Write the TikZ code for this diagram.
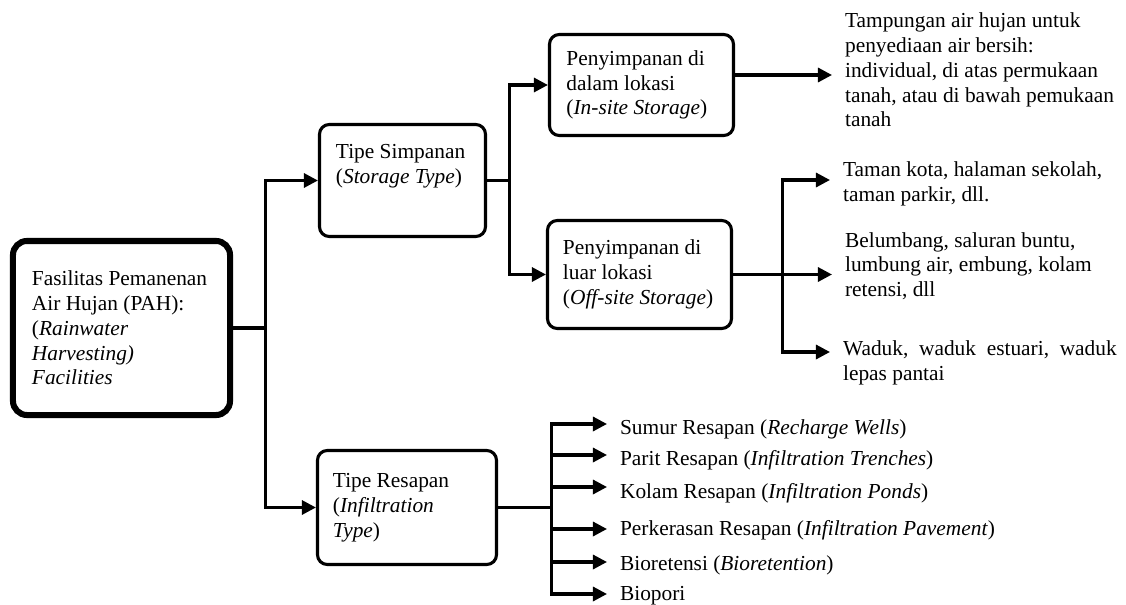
\documentclass[tikz,border=0pt]{standalone}
\usepackage{fontspec}
\setmainfont{Liberation Serif}
\usetikzlibrary{arrows.meta, positioning, calc}

\begin{document}
\begin{tikzpicture}[
    x=0.025cm, y=-0.025cm,
    >={Triangle[length=10pt, width=10pt]},
    font=\fontsize{15.2}{17.6}\selectfont,
    box/.style={draw=black, line width=2.2pt, rounded corners=7pt, align=flush left, inner ysep=0pt},
    mainbox/.style={box, line width=4.3pt, rounded corners=10pt},
    leaf/.style={align=flush left, inner xsep=0.32cm, inner ysep=0pt, anchor=west},
    link/.style={line width=2.2pt},
    arrow/.style={link, ->}
]

\useasboundingbox (0,0) rectangle (1126,605);

% ===== Root =====
\node[mainbox, minimum width=5.425cm, minimum height=4.35cm, inner xsep=0.475cm, text width=4.475cm] (pah) at (121.5,328)
    {Fasilitas Pemanenan\\Air Hujan (PAH):\\(\textit{Rainwater}\\\textit{Harvesting)}\\\textit{Facilities}};

% ===== Storage branch =====
\node[box, minimum width=4.15cm, minimum height=2.8cm, inner xsep=0.4125cm] (simp) at (402.5,180.5)
    {\parbox[c][1.8cm][t]{3.325cm}{Tipe Simpanan\\(\textit{Storage Type})}};
\node[box, minimum width=4.6cm, minimum height=2.525cm, inner xsep=0.425cm, text width=3.75cm] (dalam) at (641.5,85)
    {Penyimpanan di\\dalam lokasi\\(\textit{In-site Storage})};
\node[box, minimum width=4.6cm, minimum height=2.7cm, inner xsep=0.3875cm, text width=3.825cm] (luar) at (639.5,274.5)
    {Penyimpanan di\\luar lokasi\\(\textit{Off-site Storage})};

% Storage leaves
\node[leaf] (tamp) at (832,70)
    {Tampungan air hujan untuk\\penyediaan air bersih:\\individual, di atas permukaan\\tanah, atau di bawah pemukaan\\tanah};
\node[leaf] (taman) at (830,184) {Taman kota, halaman sekolah,\\taman parkir, dll.};
\node[leaf] (belum) at (832,266) {Belumbang, saluran buntu,\\lumbung air, embung, kolam\\retensi, dll};
\node[leaf] (waduk) at (830,363) {Waduk,\ \ waduk\ \ estuari,\ \ waduk\\lepas pantai};

% ===== Infiltration branch =====
\node[box, minimum width=4.475cm, minimum height=2.85cm, inner xsep=0.3875cm, text width=3.7cm] (res) at (407,507.5)
    {Tipe Resapan\\(\textit{Infiltration}\\\textit{Type})};

% Connectors from root
\draw[link] (pah.east) -- ++(32,0) coordinate (jPah);
\draw[arrow] (jPah) |- (simp.west);
\draw[arrow] (jPah) |- (res.west);

% Storage connectors
\draw[link] (simp.east) -- ++(22,0) coordinate (jSimp);
\draw[arrow] (jSimp) |- (dalam.west);
\draw[arrow] (jSimp) |- (luar.west);
\draw[arrow] ($(dalam.east)+(0,-10)$) -- ($(dalam.east -| tamp.west)+(0,-10)$);

\draw[link] (luar.east) -- ++(49,0) coordinate (jLuar);
\draw[arrow] (luar.east) -- (luar.east -| belum.west);
\draw[arrow] (jLuar) |- ($(taman.west)+(0,-4)$);
\draw[arrow] (jLuar) |- ($(waduk.west)+(0,-11)$);

% Infiltration leaves
\draw[link] (res.east) -- ++(53,0) coordinate (jRes);
\foreach \n/\ya/\yt/\txt in {
    sumur/424/429/{Sumur Resapan (\textit{Recharge Wells})},
    parit/455/460/{Parit Resapan (\textit{Infiltration Trenches})},
    kolam/487/493/{Kolam Resapan (\textit{Infiltration Ponds})},
    perkerasan/529/530/{Perkerasan Resapan (\textit{Infiltration Pavement})},
    bioretensi/562/565/{Bioretensi (\textit{Bioretention})},
    biopori/594/596/{Biopori}} {
    \node[leaf] (\n) at (607,\yt) {\txt};
    \draw[arrow] (jRes) |- ($(\n.west)+(0,{\ya-\yt})$);
}

\end{tikzpicture}
\end{document}
